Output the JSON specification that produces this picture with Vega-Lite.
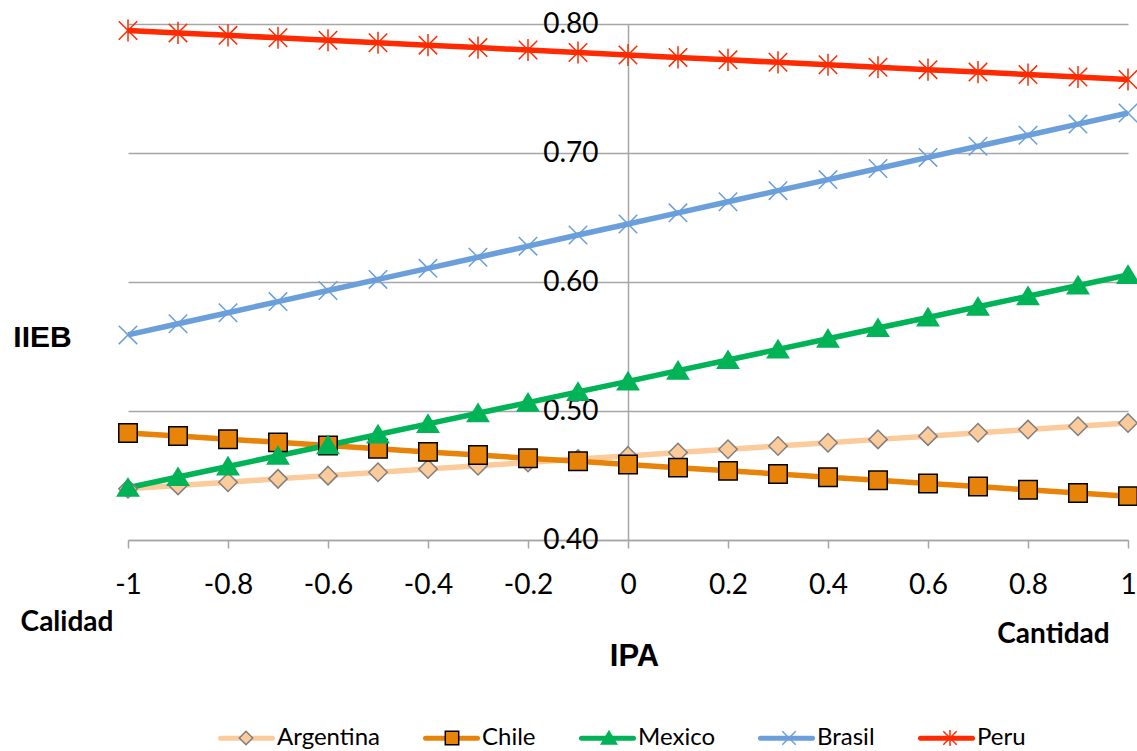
{
  "$schema": "https://vega.github.io/schema/vega-lite/v6.json",
  "description": "IIEB frente a IPA por país",
  "width": 1000,
  "height": 516,
  "autosize": "none",
  "padding": {"left": 128, "top": 24, "right": 9, "bottom": 211},
  "background": "#ffffff",
  "config": {
    "view": {"stroke": null},
    "font": "Lato"
  },
  "data": {
    "values": [
      {"IPA": -1.0, "Argentina": 0.4397, "Chile": 0.4830, "Mexico": 0.4405, "Brasil": 0.5590, "Peru": 0.7950},
      {"IPA": -0.9, "Argentina": 0.4423, "Chile": 0.4806, "Mexico": 0.4488, "Brasil": 0.5676, "Peru": 0.7931},
      {"IPA": -0.8, "Argentina": 0.4448, "Chile": 0.4781, "Mexico": 0.4570, "Brasil": 0.5762, "Peru": 0.7912},
      {"IPA": -0.7, "Argentina": 0.4474, "Chile": 0.4757, "Mexico": 0.4653, "Brasil": 0.5848, "Peru": 0.7893},
      {"IPA": -0.6, "Argentina": 0.4499, "Chile": 0.4732, "Mexico": 0.4735, "Brasil": 0.5934, "Peru": 0.7874},
      {"IPA": -0.5, "Argentina": 0.4525, "Chile": 0.4708, "Mexico": 0.4818, "Brasil": 0.6020, "Peru": 0.7855},
      {"IPA": -0.4, "Argentina": 0.4550, "Chile": 0.4683, "Mexico": 0.4900, "Brasil": 0.6106, "Peru": 0.7836},
      {"IPA": -0.3, "Argentina": 0.4576, "Chile": 0.4659, "Mexico": 0.4983, "Brasil": 0.6192, "Peru": 0.7817},
      {"IPA": -0.2, "Argentina": 0.4601, "Chile": 0.4634, "Mexico": 0.5065, "Brasil": 0.6278, "Peru": 0.7798},
      {"IPA": -0.1, "Argentina": 0.4627, "Chile": 0.4610, "Mexico": 0.5148, "Brasil": 0.6364, "Peru": 0.7779},
      {"IPA": 0.0, "Argentina": 0.4652, "Chile": 0.4585, "Mexico": 0.5230, "Brasil": 0.6450, "Peru": 0.7760},
      {"IPA": 0.1, "Argentina": 0.4678, "Chile": 0.4561, "Mexico": 0.5313, "Brasil": 0.6536, "Peru": 0.7741},
      {"IPA": 0.2, "Argentina": 0.4703, "Chile": 0.4536, "Mexico": 0.5395, "Brasil": 0.6622, "Peru": 0.7722},
      {"IPA": 0.3, "Argentina": 0.4729, "Chile": 0.4512, "Mexico": 0.5478, "Brasil": 0.6708, "Peru": 0.7703},
      {"IPA": 0.4, "Argentina": 0.4754, "Chile": 0.4487, "Mexico": 0.5560, "Brasil": 0.6794, "Peru": 0.7684},
      {"IPA": 0.5, "Argentina": 0.4780, "Chile": 0.4463, "Mexico": 0.5643, "Brasil": 0.6880, "Peru": 0.7665},
      {"IPA": 0.6, "Argentina": 0.4805, "Chile": 0.4438, "Mexico": 0.5725, "Brasil": 0.6966, "Peru": 0.7646},
      {"IPA": 0.7, "Argentina": 0.4831, "Chile": 0.4414, "Mexico": 0.5808, "Brasil": 0.7052, "Peru": 0.7627},
      {"IPA": 0.8, "Argentina": 0.4856, "Chile": 0.4389, "Mexico": 0.5890, "Brasil": 0.7138, "Peru": 0.7608},
      {"IPA": 0.9, "Argentina": 0.4882, "Chile": 0.4365, "Mexico": 0.5973, "Brasil": 0.7224, "Peru": 0.7589},
      {"IPA": 1.0, "Argentina": 0.4907, "Chile": 0.4340, "Mexico": 0.6055, "Brasil": 0.7310, "Peru": 0.7570}
    ]
  },
  "layer": [
    {
      "transform": [
        {"fold": ["Argentina", "Chile", "Mexico", "Brasil", "Peru"], "as": ["pais", "IIEB"]}
      ],
      "mark": {"type": "line", "strokeWidth": 5.5},
      "encoding": {
        "x": {
          "field": "IPA",
          "type": "quantitative",
          "scale": {"domain": [-1, 1], "nice": false},
          "axis": {
            "values": [-1, -0.8, -0.6, -0.4, -0.2, 0, 0.2, 0.4, 0.6, 0.8, 1],
            "labelExpr": "(datum.value < 0 ? '-' : '') + format(abs(datum.value), '~g')",
            "grid": false,
            "domainColor": "#A6A6A6",
            "domainWidth": 1.5,
            "tickColor": "#A6A6A6",
            "tickWidth": 1.5,
            "tickSize": 8,
            "labelFont": "Lato",
            "labelFontSize": 28,
            "labelColor": "#000000",
            "labelPadding": 23,
            "labelFlush": false,
            "labelOverlap": false,
            "title": "IPA",
            "titleFont": "Liberation Sans",
            "titleFontSize": 31,
            "titleFontWeight": "bold",
            "titleColor": "#000000",
            "titleX": 506,
            "titleY": 116,
            "titleAlign": "center",
            "titleBaseline": "middle"
          }
        },
        "y": {
          "field": "IIEB",
          "type": "quantitative",
          "scale": {"domain": [0.4, 0.8], "nice": false, "zero": false},
          "axis": {
            "values": [0.4, 0.5, 0.6, 0.7, 0.8],
            "format": ".2f",
            "offset": -500,
            "grid": true,
            "gridColor": "#A6A6A6",
            "gridWidth": 1.5,
            "domainColor": "#A6A6A6",
            "domainWidth": 1.5,
            "ticks": false,
            "tickSize": 0,
            "labelFont": "Lato",
            "labelFontSize": 28,
            "labelColor": "#000000",
            "labelPadding": 30,
            "labelFlush": false,
            "labelOverlap": false,
            "title": "IIEB",
            "titleAngle": 0,
            "titleX": -586,
            "titleY": 313,
            "titleAlign": "center",
            "titleBaseline": "middle",
            "titleFont": "Liberation Sans",
            "titleFontSize": 30,
            "titleFontWeight": "bold",
            "titleColor": "#000000"
          }
        },
        "color": {
          "field": "pais",
          "type": "nominal",
          "scale": {
            "domain": ["Argentina", "Chile", "Mexico", "Brasil", "Peru"],
            "range": ["#FBCB9C", "#E8830A", "#00B356", "#6A9FDB", "#FF2A00"]
          },
          "legend": {
            "title": null,
            "orient": "none",
            "legendX": 90,
            "legendY": 685.5,
            "direction": "horizontal",
            "padding": 0,
            "symbolType": "stroke",
            "symbolSize": 2704,
            "symbolStrokeWidth": 5,
            "labelFont": "Lato",
            "labelFontSize": 24,
            "labelColor": "#000000",
            "labelOffset": 2,
            "columnPadding": 35,
            "encode": {"symbols": {"update": {"strokeCap": {"value": "round"}}}}
          }
        }
      }
    },
    {
      "transform": [
        {"fold": ["Argentina", "Chile", "Mexico", "Brasil", "Peru"], "as": ["serie", "IIEB"]}
      ],
      "mark": {"type": "point", "filled": true, "size": 340, "strokeWidth": 1.5, "opacity": 1},
      "encoding": {
        "x": {"field": "IPA", "type": "quantitative"},
        "y": {"field": "IIEB", "type": "quantitative"},
        "shape": {
          "field": "serie",
          "type": "nominal",
          "scale": {
            "domain": ["Peru", "Brasil", "Mexico", "Chile", "Argentina"],
            "range": [
              "M-1,-1L1,1M-1,1L1,-1M0,-1.2L0,1.2",
              "M-1,-1L1,1M-1,1L1,-1",
              "M0,-1L1.15,0.9L-1.15,0.9Z",
              "M-1,-1H1V1H-1Z",
              "M0,-1L1,0L0,1L-1,0Z"
            ]
          },
          "legend": {
            "title": null,
            "values": ["Argentina", "Chile", "Mexico", "Brasil", "Peru"],
            "orient": "none",
            "legendX": 106,
            "legendY": 702,
            "direction": "horizontal",
            "padding": 0,
            "symbolSize": 180,
            "symbolStrokeWidth": 1.5,
            "labelFont": "Lato",
            "labelFontSize": 24,
            "labelOpacity": 0,
            "labelOffset": 44,
            "columnPadding": 35
          }
        },
        "fill": {
          "field": "serie",
          "type": "nominal",
          "scale": {
            "domain": ["Peru", "Brasil", "Mexico", "Chile", "Argentina"],
            "range": ["#FF2A00", "#6A9FDB", "#00B356", "#E8830A", "#FBCB9C"]
          }
        },
        "stroke": {
          "field": "serie",
          "type": "nominal",
          "scale": {
            "domain": ["Peru", "Brasil", "Mexico", "Chile", "Argentina"],
            "range": ["#FF2A00", "#6A9FDB", "#00B356", "#000000", "#7F7F7F"]
          }
        }
      }
    },
    {
      "data": {
        "values": [
          {"texto": "Calidad", "IPA": -1.122, "IIEB": 0.3353},
          {"texto": "Cantidad", "IPA": 0.851, "IIEB": 0.326}
        ]
      },
      "mark": {"type": "text", "font": "Lato", "fontWeight": "bold", "fontSize": 28, "align": "center", "baseline": "middle", "color": "#000000"},
      "encoding": {
        "x": {"field": "IPA", "type": "quantitative"},
        "y": {"field": "IIEB", "type": "quantitative"},
        "text": {"field": "texto", "type": "nominal"}
      }
    }
  ]
}
